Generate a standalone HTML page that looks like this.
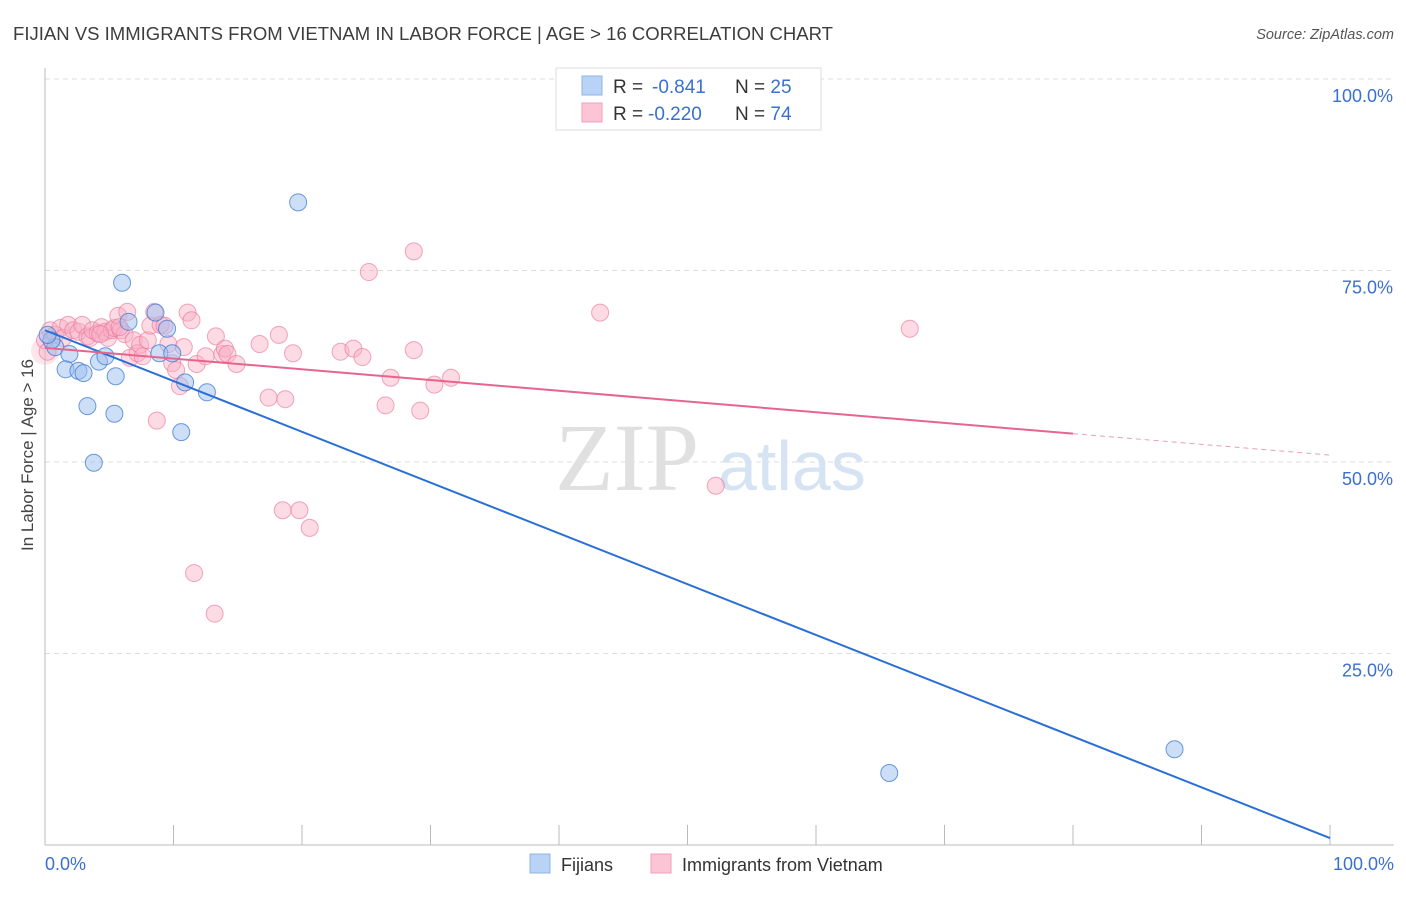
<!DOCTYPE html>
<html><head><meta charset="utf-8"><style>
body{margin:0;background:#fff;font-family:"Liberation Sans",sans-serif}
svg text{font-family:"Liberation Sans",sans-serif}
</style></head><body>
<svg id="chart" width="1406" height="892" viewBox="0 0 1406 892">
<text x="13" y="40" font-size="18" fill="#3d3d3d" textLength="820" lengthAdjust="spacingAndGlyphs">FIJIAN VS IMMIGRANTS FROM VIETNAM IN LABOR FORCE | AGE &gt; 16 CORRELATION CHART</text>
<text x="1394" y="39" font-size="14.5" fill="#555" text-anchor="end" font-style="italic">Source: ZipAtlas.com</text>
<g id="grid"></g>
<text x="555" y="490" font-size="96" fill="#e0e0e0" style="font-family:'Liberation Serif',serif">ZIP</text>
<text x="718" y="490" font-size="70" fill="#d6e3f3">atlas</text>
<text transform="translate(33,455) rotate(-90)" font-size="17" fill="#444" text-anchor="middle">In Labor Force | Age &gt; 16</text>
<g id="marks"></g>
<g>
<rect x="556" y="68" width="265" height="62" fill="#fff" stroke="#ddd"/>
<rect x="582" y="76" width="20" height="19" fill="#b8d3f5" stroke="#8fb4e8"/>
<rect x="582" y="103" width="20" height="19" fill="#fcc5d5" stroke="#f0a0b8"/>
<text x="613" y="93" font-size="19" fill="#333">R = <tspan x="652" fill="#3a70d0">-0.841</tspan><tspan x="735">N = </tspan><tspan fill="#3a70d0">25</tspan></text>
<text x="613" y="120" font-size="19" fill="#333">R = <tspan x="648" fill="#3a70d0">-0.220</tspan><tspan x="735">N = </tspan><tspan fill="#3a70d0">74</tspan></text>
</g>
<g>
<rect x="530" y="854" width="20" height="19" fill="#b8d3f5" stroke="#8fb4e8"/>
<text x="561" y="871" font-size="18" fill="#333">Fijians</text>
<rect x="651" y="854" width="20" height="19" fill="#fcc5d5" stroke="#f0a0b8"/>
<text x="682" y="871" font-size="18" fill="#333">Immigrants from Vietnam</text>
</g>
</svg>
<script>
const yTicks=[25,50,75,100];
const yTickLabels=["25.0%","50.0%","75.0%","100.0%"];
const xTickLabels=["0.0%","100.0%"];
const fijX=[0.8,0.5,1.9,1.6,2.6,3.0,3.3,3.8,4.2,4.7,5.4,5.5,6.0,6.5,8.6,8.9,9.5,9.9,10.6,10.9,12.6,19.7,65.7,87.9,0.2];
const fijY=[65.0,65.9,64.1,62.1,61.9,61.6,57.3,49.9,63.1,63.8,56.3,61.2,73.4,68.3,69.5,64.2,67.4,64.2,53.9,60.4,59.1,83.9,9.4,12.5,66.6];
const vieX=[0,0.2,0.4,0.8,1.2,1.4,1.8,2.2,2.6,2.9,3.3,3.5,3.7,4.1,4.4,4.7,4.9,5.2,5.4,5.7,5.9,6.2,6.4,6.6,6.9,7.2,7.4,7.6,8.0,8.2,8.5,8.7,9.0,9.3,9.6,9.9,10.2,10.5,10.8,11.1,11.4,11.6,11.8,12.5,13.2,13.3,13.8,14.0,14.2,14.9,16.7,17.4,18.2,18.5,18.7,19.3,19.8,20.6,23.0,24.0,24.7,25.2,26.5,26.9,28.7,28.7,29.2,30.3,31.6,43.2,52.2,67.3,4.3,5.8];
const vieY=[65.9,64.4,67.2,66.6,67.5,66.2,67.9,67.2,67.0,67.9,66.4,66.2,67.2,66.8,67.6,67.0,66.2,67.2,67.5,69.1,67.2,66.7,69.6,63.6,65.9,64.2,65.3,63.8,65.9,67.8,69.6,55.4,67.9,67.8,65.4,62.9,62.0,59.9,65.0,69.5,68.5,35.5,62.8,63.8,30.2,66.4,64.1,64.8,64.1,62.8,65.4,58.4,66.6,43.7,58.2,64.2,43.7,41.4,64.4,64.8,63.7,74.8,57.4,61.0,64.6,77.5,56.7,60.1,61.0,69.5,46.9,67.4,66.7,67.6];
const fijLine=[67.2,0.9];
const vieLine=[64.9,50.9];
const sx=v=>45+v*12.85, sy=v=>845-v*7.66;
const NS="http://www.w3.org/2000/svg";
const svg=document.getElementById('chart'),grid=document.getElementById('grid'),marks=document.getElementById('marks');
function mk(tag,attrs,parent){const e=document.createElementNS(NS,tag);for(const k in attrs)e.setAttribute(k,attrs[k]);(parent||svg).appendChild(e);return e;}
yTicks.forEach((t,i)=>{
 const l=mk('line',{x1:45,x2:1394,y1:sy(t),y2:sy(t),stroke:'#ddd','stroke-dasharray':'5,4'},grid);
 
 
 const tx=mk('text',{x:1393,y:sy(t)+23,'font-size':18,fill:'#3a70d0','text-anchor':'end'},grid);
 tx.textContent=yTickLabels[i];
 
 
});
const ax=mk('line',{x1:45,x2:45,y1:68,y2:845,stroke:'#bbb'},grid);


const xa=mk('line',{x1:45,x2:1394,y1:845,y2:845,stroke:'#bbb'},grid);


for(let i=0;i<=10;i++){const t=mk('line',{x1:sx(i*10),x2:sx(i*10),y1:825,y2:845,stroke:'#bbb'},grid);
 
 }
[[0,'start',45],[100,'end',1394]].forEach((d,i)=>{const t=mk('text',{x:d[2],y:870,'font-size':18,fill:'#3a70d0','text-anchor':d[1]},grid);t.textContent=xTickLabels[i];
 
 });
const big=mk('circle',{cx:sx(0),cy:sy(64.5),r:14,fill:'rgba(248,180,200,0.35)'},marks);


vieX.forEach((x,i)=>{const c=mk('circle',{cx:sx(x),cy:sy(vieY[i]),r:8.5,fill:'rgba(248,175,198,0.45)',stroke:'rgba(235,120,155,0.65)','stroke-width':1},marks);
 
 });
fijX.forEach((x,i)=>{const c=mk('circle',{cx:sx(x),cy:sy(fijY[i]),r:8.5,fill:'rgba(155,192,240,0.5)',stroke:'rgba(60,120,210,0.75)','stroke-width':1},marks);
 
 });
const bl=mk('line',{x1:sx(0),y1:sy(fijLine[0]),x2:sx(100),y2:sy(fijLine[1]),stroke:'#2a6fd6','stroke-width':2},marks);


const vy80=vieLine[0]+(vieLine[1]-vieLine[0])*0.8;
const pl=mk('line',{x1:sx(0),y1:sy(vieLine[0]),x2:sx(80),y2:sy(vy80),stroke:'#e8648e','stroke-width':2},marks);


const pd=mk('line',{x1:sx(80),y1:sy(vy80),x2:sx(100),y2:sy(vieLine[1]),stroke:'#e8a0b5','stroke-width':1,'stroke-dasharray':'5,4'},marks);


</script>
</body></html>
